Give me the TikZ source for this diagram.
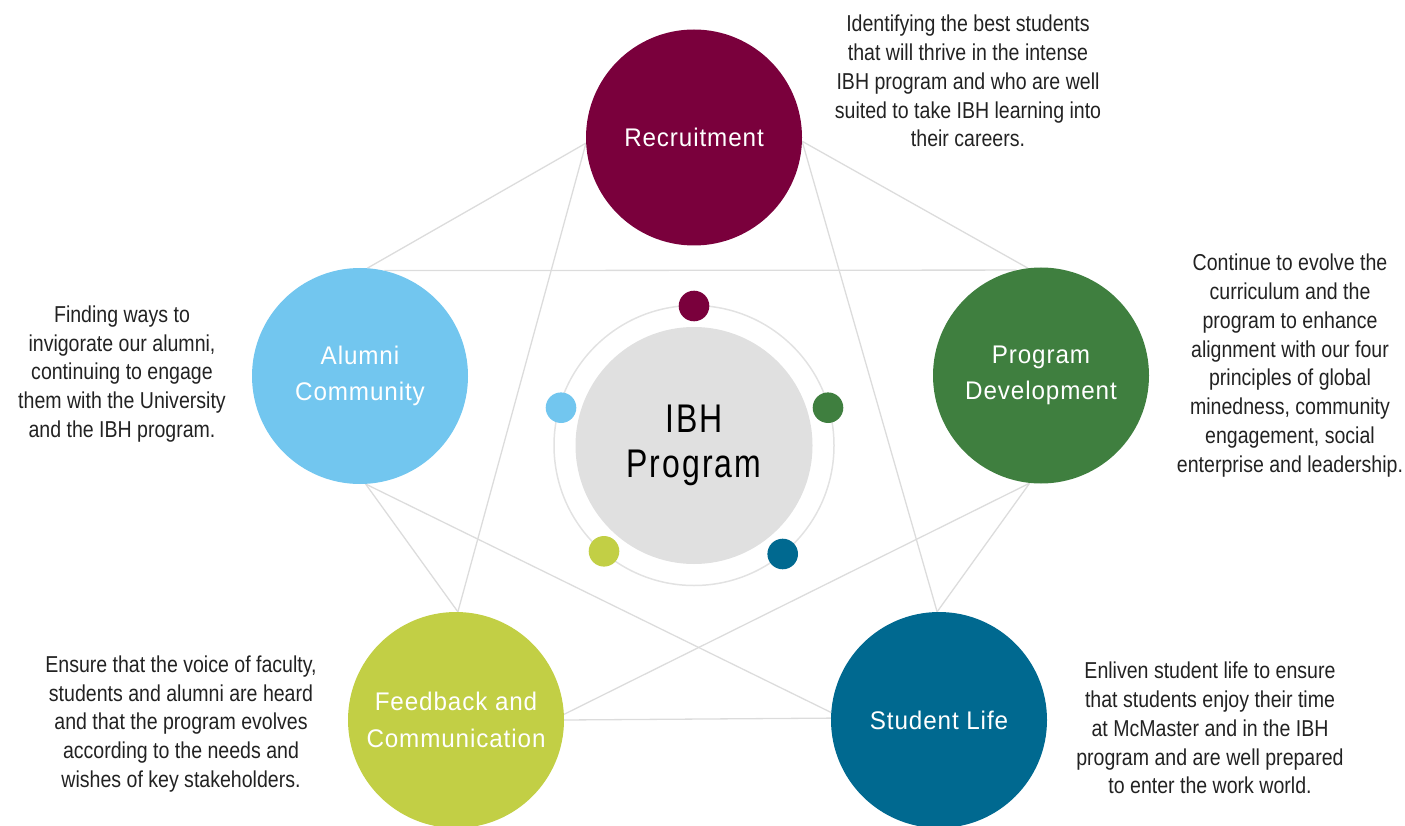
\documentclass[tikz,border=0pt]{standalone}
\usepackage{fontspec}
\setmainfont[FakeStretch=0.85]{Liberation Sans}
\newfontfamily\labelfont[FakeStretch=0.95,LetterSpace=3.5]{Liberation Sans}
\newfontfamily\hubfont[FakeStretch=0.8,LetterSpace=5]{Liberation Sans}
\pgfdeclarelayer{bg}
\pgfsetlayers{bg,main}

\definecolor{cRec}{HTML}{7A003C}
\definecolor{cDev}{HTML}{3F7F3F}
\definecolor{cLife}{HTML}{006990}
\definecolor{cFeed}{HTML}{C2CF45}
\definecolor{cAlum}{HTML}{72C6EF}
\definecolor{hubgray}{HTML}{E0E0E0}
\definecolor{ringgray}{HTML}{E2E2E2}
\definecolor{linkgray}{HTML}{DCDCDC}
\definecolor{textgray}{HTML}{222222}

\begin{document}
\begin{tikzpicture}[x=1pt,y=-1pt,
  pillar/.style={circle, inner sep=0pt, minimum size=216pt, text=white,
    align=center, font=\labelfont\fontsize{25.5}{36.5}\selectfont},
  core/.style={circle, inner sep=0pt, minimum size=237pt, fill=hubgray,
    text=black, align=center, font=\hubfont\fontsize{40}{45}\selectfont},
  orbit/.style={circle, inner sep=0pt, minimum size=280pt, draw=ringgray, line width=1.5pt},
  dot/.style={circle, inner sep=0pt, minimum size=30.6pt},
  link/.style={draw=linkgray, line width=1.3pt},
  desc/.style={align=center, text=textgray, font=\fontsize{23}{28.8}\selectfont}]

\useasboundingbox (0,0) rectangle (1405,826);

% the five pillars
\node[pillar, fill=cRec]  (rec)  at (694,137.5) {Recruitment};
\node[pillar, fill=cDev]  (dev)  at (1041,375.5) {Program\\Development};
\node[pillar, fill=cLife] (life) at (939,720) {Student Life};
\node[pillar, fill=cFeed] (feed) at (456,720) {Feedback and\\Communication};
\node[pillar, fill=cAlum] (alum) at (360,376) {Alumni\\Community};

% central programme with its orbit
\node[orbit] (ring) at (694,445.5) {};
\node[core] (ibh) at (694,445.5) {IBH\\Program};
\node[dot, fill=cRec]  (dRec)  at (694,306) {};
\node[dot, fill=cDev]  (dDev)  at (828,407.7) {};
\node[dot, fill=cLife] (dLife) at (782.7,554) {};
\node[dot, fill=cFeed] (dFeed) at (604,551.3) {};
\node[dot, fill=cAlum] (dAlum) at (561,407.7) {};

% every pillar linked to every other one
\begin{pgfonlayer}{bg}
\draw[link] (rec.183) -- (alum.86);
\draw[link] (rec.183) -- (feed.89.5);
\draw[link] (rec.358) -- (dev.97);
\draw[link] (rec.358) -- (life.91);
\draw[link] (alum.77) -- (dev.103);
\draw[link] (alum.273) -- (feed.89.5);
\draw[link] (alum.273) -- (life.176);
\draw[link] (dev.264) -- (life.91);
\draw[link] (dev.264) -- (feed.3);
\draw[link] (feed.0) -- (life.179);
\end{pgfonlayer}

% descriptions
\node[desc] (tRec) at (968,81) {Identifying the best students\\that will thrive in the intense\\IBH program and who are well\\suited to take IBH learning into\\their careers.};
\node[desc] (tDev) at (1290,365.5) {Continue to evolve the\\curriculum and the\\program to enhance\\alignment with our four\\principles of global\\minedness, community\\engagement, social\\enterprise and leadership.};
\node[desc] (tAlum) at (122,374) {Finding ways to\\invigorate our alumni,\\continuing to engage\\them with the University\\and the IBH program.};
\node[desc] (tFeed) at (181,724) {Ensure that the voice of faculty,\\students and alumni are heard\\and that the program evolves\\according to the needs and\\wishes of key stakeholders.};
\node[desc] (tLife) at (1210,728) {Enliven student life to ensure\\that students enjoy their time\\at McMaster and in the IBH\\program and are well prepared\\to enter the work world.};
\end{tikzpicture}
\end{document}
